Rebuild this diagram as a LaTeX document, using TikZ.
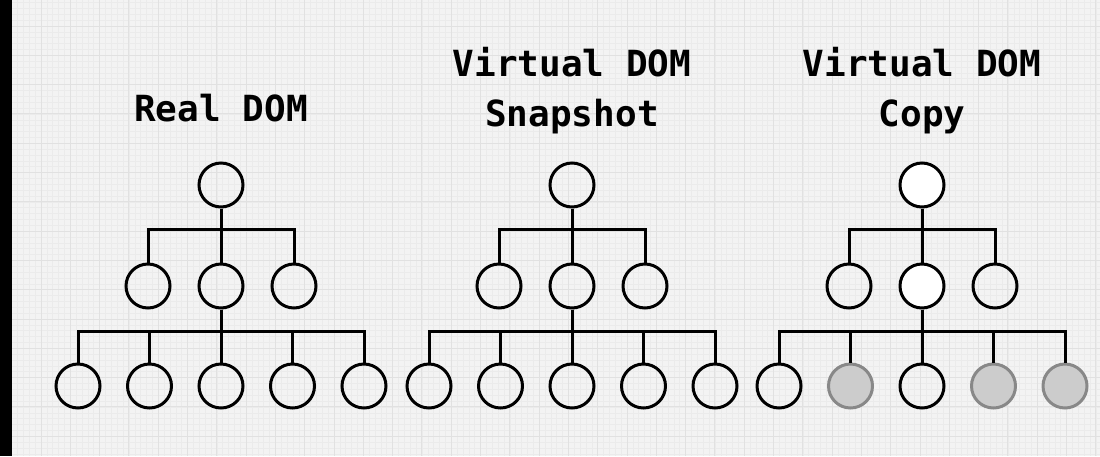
\documentclass[tikz,border=0pt]{standalone}
\usepackage{fontspec}
\setmonofont{DejaVu Sans Mono}
\usepackage{tikz}
\definecolor{paper}{HTML}{F3F3F3}
\definecolor{gridminor}{HTML}{EBEBEB}
\definecolor{gridmajor}{HTML}{E1E1E1}
\definecolor{changedfill}{HTML}{CCCCCC}
\definecolor{changedline}{HTML}{888888}

\begin{document}
\begin{tikzpicture}[
                x=1pt, y=-1pt,
                title/.style={font=\ttfamily\bfseries\fontsize{36}{50}\selectfont, align=center, anchor=base, inner sep=0pt},
                dom/.style={circle, draw, line width=3pt, minimum size=44pt, inner sep=0pt},
                kept/.style={dom, fill=white},
                changed/.style={dom, draw=changedline, fill=changedfill},
                link/.style={line width=3pt},
                minor/.style={gridminor, line width=0.5pt},
                major/.style={gridmajor, line width=1pt}
            ]
            % paper with grid
            \useasboundingbox (0,0) rectangle (1100,456);
            \fill[paper] (0,0) rectangle (1100,456);
            \foreach \k in {0,...,186} \draw[minor] ({11.7+\k*5.86},0) -- ++(0,456);
            \foreach \k in {1,...,78} \draw[minor] (0,{-3.3+\k*5.86}) -- ++(1100,0);
            \foreach \k in {0,...,37} \draw[major] ({11.7+\k*29.3},0) -- ++(0,456);
            \foreach \k in {1,...,15} \draw[major] (0,{-3.3+\k*29.3}) -- ++(1100,0);
            \fill[black] (0,0) rectangle (11.5,456);

            \node (real-title) [title] at (221,121) {Real DOM};
            \node (snap-title) [title] at (572,126) {Virtual DOM\\Snapshot};
            \node (copy-title) [title] at (922,126) {Virtual DOM\\Copy};

            % the three trees
            \foreach \t/\cx/\top/\low in {real/221/dom/{dom,dom,dom,dom,dom},
                                          snap/572/dom/{dom,dom,dom,dom,dom},
                                          copy/922/kept/{dom,changed,dom,changed,changed}} {
                \node (\t-root) [\top] at (\cx,185) {};
                \node (\t-m1) [dom] at (\cx-73,286) {};
                \node (\t-m2) [\top] at (\cx,286) {};
                \node (\t-m3) [dom] at (\cx+73,286) {};
                \foreach \s [count=\i] in \low
                    \node (\t-b\i) [\s] at ({\cx+(\i-3)*71.5},386) {};

                \coordinate (\t-bar1) at (\cx,229);
                \coordinate (\t-bar2) at (\cx,331);
                \foreach \i in {1,2,3}
                    \draw[link] (\t-root) -- (\t-bar1) -| (\t-m\i);
                \foreach \i in {1,...,5}
                    \draw[link] (\t-m2) -- (\t-bar2) -| (\t-b\i);
            }
\end{tikzpicture}
\end{document}
